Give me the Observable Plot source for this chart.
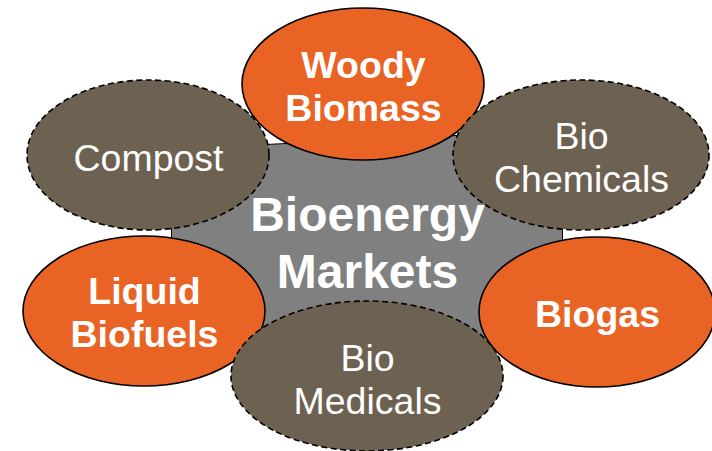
<!DOCTYPE html>
<html>
<head>
<meta charset="utf-8">
<script src="https://cdn.jsdelivr.net/npm/d3@7"></script>
<script src="https://cdn.jsdelivr.net/npm/@observablehq/plot@0.6"></script>
<style>
  html, body { margin: 0; padding: 0; background: #fff; }
  #chart svg { display: block; }
</style>
</head>
<body>
<div id="chart"></div>
<script>
// ---- data ----
const centerLabel = "Bioenergy\nMarkets";
const centerPos = [367, 241];
const hubX = [265, 456, 562, 562, 460, 275, 171, 171, 265];
const hubY = [144, 135, 215, 300, 372, 372, 300, 215, 144];

const labels = ["Woody\nBiomass", "Compost", "Bio\nChemicals", "Liquid\nBiofuels", "Bio\nMedicals", "Biogas"];
const kinds  = ["core", "other", "other", "core", "other", "core"];
const centerX = [363, 148, 581, 144, 367, 597];
const centerY = [84, 155, 155, 311, 376, 312];
const radiusX = [121, 121, 128, 121, 136, 118];
const radiusY = [76, 75, 75, 75, 75, 75];
const labelY  = [85, 156, 156, 311, 378, 312];

const fillCore = "#E96325";
const fillOther = "#6D6151";
const fillHub = "#808080";

// ---- build tables ----
const hub = hubX.map((x, i) => ({x, y: hubY[i]}));
const nodes = labels.map((label, i) => ({
  label, kind: kinds[i], cx: centerX[i], cy: centerY[i], rx: radiusX[i], ry: radiusY[i], ly: labelY[i]
}));

function ellipses(data) {
  return Plot.dot(data, {
    x: "cx", y: "cy",
    render(index, scales) {
      const g = d3.create("svg:g");
      for (const i of index) {
        const d = data[i];
        const cx = scales.x(d.cx), cy = scales.y(d.cy);
        g.append("ellipse")
          .attr("cx", cx).attr("cy", cy)
          .attr("rx", Math.abs(scales.x(d.cx + d.rx) - cx))
          .attr("ry", Math.abs(scales.y(d.cy + d.ry) - cy))
          .attr("fill", d.kind === "core" ? fillCore : fillOther)
          .attr("stroke", "#000")
          .attr("stroke-width", 1.6)
          .attr("stroke-dasharray", d.kind === "core" ? null : "6,3.5");
      }
      return g.node();
    }
  });
}

const font = "'Liberation Sans', Arial, Helvetica, sans-serif";

const chart = Plot.plot({
  width: 712,
  height: 451,
  margin: 0,
  x: {domain: [0, 712], axis: null},
  y: {domain: [0, 451], reverse: true, axis: null},
  style: {fontFamily: font, background: "#fff"},
  marks: [
    Plot.line(hub, {x: "x", y: "y", fill: fillHub, stroke: "#000", strokeWidth: 1, curve: "linear"}),
    ellipses(nodes),
    Plot.text(nodes.filter(d => d.kind === "core"), {
      x: "cx", y: "ly", text: "label", fill: "#fff", fontSize: 37.5, fontWeight: "bold",
      lineAnchor: "middle", lineHeight: 1.17, fontFamily: font
    }),
    Plot.text(nodes.filter(d => d.kind !== "core"), {
      x: "cx", y: "ly", text: "label", fill: "#fff", fontSize: 37.5, fontWeight: "normal",
      lineAnchor: "middle", lineHeight: 1.17, fontFamily: font
    }),
    Plot.text([centerLabel], {
      x: () => centerPos[0], y: () => centerPos[1], text: d => d, fill: "#fff",
      fontSize: 48, fontWeight: "bold", lineAnchor: "middle", lineHeight: 1.17, fontFamily: font
    })
  ]
});
document.getElementById("chart").append(chart);
</script>
</body>
</html>
